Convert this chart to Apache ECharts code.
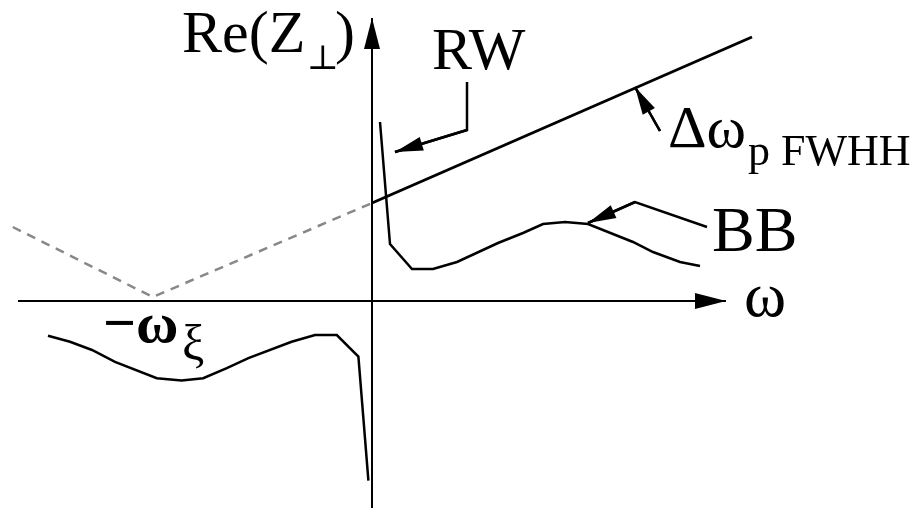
<!DOCTYPE html>
<html>
<head>
<meta charset="utf-8">
<script src="https://cdn.jsdelivr.net/npm/echarts@6/dist/echarts.min.js"></script>
<style>
  html, body { margin: 0; padding: 0; background: #fff; }
  #chart { width: 924px; height: 510px; }
</style>
</head>
<body>
<div id="chart"></div>
<script>
// Frequency (ω) and impedance Re(Z⊥) in arbitrary units.
const viewW = [-9.3, 13.8];
const viewZ = [-5.225, 7.525];

// Drawn coordinate axes (tail, arrow tip)
const omegaAxisW = [-8.85, 8.85];
const omegaAxisZ = [0, 0];
const reAxisW = [0, 0];
const reAxisZ = [-5.175, 7.075];

// Resistive-wall impedance seen through the shifted frequency (dashed extension)
const rwMirrorW = [-8.98, -5.48, 0];
const rwMirrorZ = [1.85, 0.1, 2.45];

// Resistive-wall impedance, positive frequencies
const rwW = [0, 9.5];
const rwZ = [2.45, 6.6];

// Broadband resonator, positive frequencies (with low-frequency RW spike)
const bbPosW = [0.2, 0.45, 1.0, 1.525, 2.125, 3.15, 3.775, 4.275, 4.825, 5.4, 6.525, 7.025, 7.7, 8.2];
const bbPosZ = [4.475, 1.425, 0.8, 0.8, 0.975, 1.45, 1.7, 1.925, 1.975, 1.925, 1.475, 1.225, 0.975, 0.875];

// Broadband resonator, negative frequencies
const bbNegW = [-8.1, -7.55, -7.0, -6.425, -5.38, -4.76, -4.22, -3.63, -3.09, -2.01, -1.425, -0.88, -0.34, -0.09];
const bbNegZ = [-0.87, -1.02, -1.225, -1.52, -1.93, -1.99, -1.93, -1.68, -1.43, -1.02, -0.85, -0.85, -1.39, -4.49];

// Annotation pointers (last point is the arrow tip)
const rwPointerW = [2.375, 2.375, 0.575];
const rwPointerZ = [5.475, 4.275, 3.725];
const fwhhPointerW = [7.2, 6.575];
const fwhhPointerZ = [4.25, 5.35];
const bbPointerW = [8.375, 6.575, 5.4];
const bbPointerZ = [1.85, 2.475, 1.95];

function pairs(w, z) { return w.map((v, i) => [v, z[i]]); }

const SERIF = '"Liberation Serif", "DejaVu Serif", serif';

function curve(name, w, z, extra) {
  return Object.assign({
    name: name,
    type: 'line',
    data: pairs(w, z),
    showSymbol: false,
    symbol: 'none',
    clip: false,
    silent: true,
    animation: false,
    lineStyle: { color: '#000', width: 2.5, cap: 'butt', join: 'miter' }
  }, extra || {});
}

// Polyline whose last segment ends in a filled arrowhead (tip exactly at the last point)
function pointer(name, w, z, width, head) {
  const n = w.length;
  return curve(name, w, z, {
    lineStyle: { color: '#000', width: width, cap: 'butt', join: 'miter' },
    markLine: {
      silent: true,
      animation: false,
      symbol: ['none', 'none'],
      label: { show: false },
      lineStyle: { color: '#000', width: width, type: 'solid' },
      emphasis: { disabled: true },
      data: [[
        { coord: [w[n - 2], z[n - 2]] },
        { coord: [w[n - 1], z[n - 1]], symbol: 'triangle', symbolSize: head,
          symbolOffset: [0, head[1] / 2], itemStyle: { color: '#000' } }
      ]]
    }
  });
}

function label(text, x, baseline, size, opts) {
  opts = opts || {};
  return {
    type: 'text',
    x: x,
    y: baseline - 0.3375 * size,
    silent: true,
    style: {
      text: text,
      font: (opts.weight || 'normal') + ' ' + size + 'px ' + (opts.family || SERIF),
      fill: '#000',
      textAlign: 'left',
      textVerticalAlign: 'middle'
    }
  };
}

const hiddenAxis = {
  type: 'value',
  axisLine: { show: false },
  axisTick: { show: false },
  axisLabel: { show: false },
  splitLine: { show: false }
};

const chart = echarts.init(document.getElementById('chart'), null, { renderer: 'canvas' });

chart.setOption({
  backgroundColor: '#fff',
  animation: false,
  grid: { left: 0, right: 0, top: 0, bottom: 0, containLabel: false },
  xAxis: Object.assign({ min: viewW[0], max: viewW[1] }, hiddenAxis),
  yAxis: Object.assign({ min: viewZ[0], max: viewZ[1] }, hiddenAxis),
  series: [
    pointer('ω axis', omegaAxisW, omegaAxisZ, 2, [16, 31]),
    pointer('Re axis', reAxisW, reAxisZ, 2, [16, 31]),
    curve('RW (shifted)', rwMirrorW, rwMirrorZ, {
      lineStyle: { color: '#888', width: 2.5, type: [9, 7], cap: 'butt' }
    }),
    curve('RW', rwW, rwZ, { lineStyle: { color: '#000', width: 3, cap: 'butt' } }),
    curve('BB +ω', bbPosW, bbPosZ),
    curve('BB −ω', bbNegW, bbNegZ),
    pointer('RW pointer', rwPointerW, rwPointerZ, 2.5, [14, 28]),
    pointer('FWHH pointer', fwhhPointerW, fwhhPointerZ, 2.5, [14, 28]),
    pointer('BB pointer', bbPointerW, bbPointerZ, 2.5, [14, 28])
  ],
  graphic: [
    label('Re(Z', 182, 56, 60),
    label('⊥', 307, 72, 34, { family: '"DejaVu Serif", "Liberation Serif", serif' }),
    label(')', 335, 56, 60),
    label('RW', 432, 73, 60),
    label('Δω', 668, 151, 60),
    label('p FWHH', 748, 168, 44),
    label('BB', 712, 256, 64),
    label('ω', 744, 321, 64),
    label('−ω', 103, 347, 58, { weight: 'bold' }),
    label('ξ', 182, 364, 50)
  ]
});
</script>
</body>
</html>
